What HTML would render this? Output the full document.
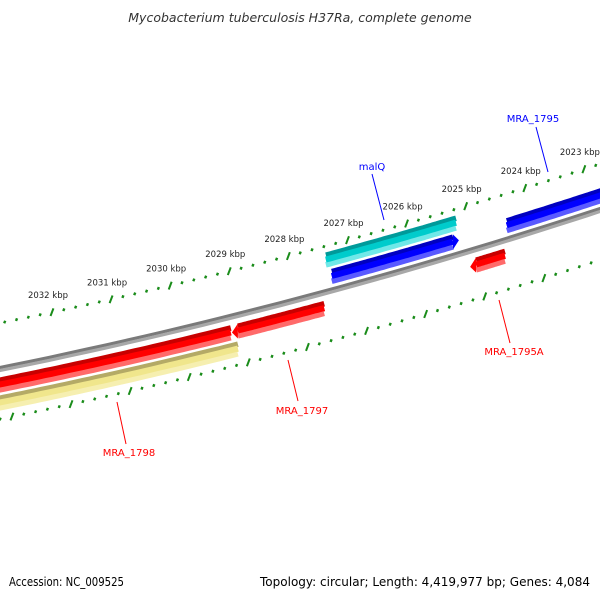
<!DOCTYPE html>
<html><head><meta charset="utf-8"><style>
html,body{margin:0;padding:0;background:#fff}
svg{display:block;font-family:"DejaVu Sans","Liberation Sans",sans-serif}
</style></head><body>
<svg id="map" width="600" height="600" viewBox="0 0 600 600" xmlns="http://www.w3.org/2000/svg">
<rect width="600" height="600" fill="#fff"/>
<text x="300" y="22" text-anchor="middle" font-size="12.5" font-style="italic" fill="#333">Mycobacterium tuberculosis H37Ra, complete genome</text>
<g id="ticks"></g>
<g id="backbone"></g>
<g id="genes"></g>
<g id="labels"></g>
<text x="9" y="586" font-size="12" fill="#000" textLength="115" lengthAdjust="spacingAndGlyphs">Accession: NC_009525</text>
<text x="260" y="586" font-size="12" fill="#000" textLength="330" lengthAdjust="spacingAndGlyphs">Topology: circular; Length: 4,419,977 bp; Genes: 4,084</text>
</svg>
<script>
// data
const majorTicks = [2023,2024,2025,2026,2027,2028,2029,2030,2031,2032];
const tickLabels = ["2023 kbp","2024 kbp","2025 kbp","2026 kbp","2027 kbp","2028 kbp","2029 kbp","2030 kbp","2031 kbp","2032 kbp"];
const geneNames = ["MRA_1795","MRA_1795A","blue-gene","malQ","MRA_1797","MRA_1798","yellow-feature"];
const geneStarts = [2022.0,2024.01,2024.79,2024.84,2027.07,2028.65,2028.53];
const geneEnds   = [2023.98,2024.60,2026.94,2027.04,2028.63,2032.7,2032.7];
const geneRing   = [-14,16,-14,-32,16,16,34];
const geneColor  = ["blue","red","blue","cyan","red","red","yellow"];
const geneArrow  = ["none","left","right","none","left","none","none"];

const NS="http://www.w3.org/2000/svg";
function mk(tag,attrs,parent){const e=document.createElementNS(NS,tag);for(const k in attrs)e.setAttribute(k,attrs[k]);parent.appendChild(e);return e;}
// geometry
function baseY(x){return 369-0.2017*x-1.056e-4*x*x;}
const SHEAR=-0.417;
function kx(k){return 32.8+(2032-k)*59.1;}
function tpos(k,d){const x=kx(k)+SHEAR*d;return [x,baseY(x)+d];}
function pos(k,d){const x=kx(k);return [x,baseY(x)+d];}
function pathAlong(k1,k2,d){let s="";const n=40;for(let i=0;i<=n;i++){const k=k1+(k2-k1)*i/n;const p=pos(k,d);s+=(i?"L":"M")+p[0].toFixed(1)+","+p[1].toFixed(1);}return s;}

const pal={blue:["#0000c0","#0000ff","#5a5aff"],red:["#c80000","#ff0000","#ff6a6a"],cyan:["#009a9a","#00cccc","#70e8e8"],yellow:["#b4aa66","#f0e68c","#f6efb0"]};

// backbone
const bb=document.getElementById('backbone');
let e=mk('path',{d:pathAlong(2021,2034,-1.5),stroke:"#7a7a7a","stroke-width":3.2,fill:"none"},bb);

e=mk('path',{d:pathAlong(2021,2034,1.5),stroke:"#a8a8a8","stroke-width":3.2,fill:"none"},bb);


// ticks
const tg=document.getElementById('ticks');
[-46,50].forEach(function(d,ri){
  for(let k=2033.4;k>=2021.6;k-=0.2){
    const kk=Math.round(k*10)/10;
    const major=Math.abs(kk-Math.round(kk))<0.01;
    const h=major?3.5:1.2;
    const a=tpos(kk,d-h),b=tpos(kk,d+h);
    const t=mk('line',{x1:a[0],y1:a[1],x2:b[0],y2:b[1],stroke:"#1a8c1a","stroke-width":major?2:2.4},tg);
    
    
  }
});
majorTicks.forEach(function(k,i){
  const p=tpos(k,-46);
  const t=mk('text',{x:p[0]-4,y:p[1]-14,"text-anchor":"middle","font-size":"8.5",fill:"#222"},tg);
  t.textContent=tickLabels[i];
  
  
});

// genes
const gg=document.getElementById('genes');
geneNames.forEach(function(name,i){
  const g=mk('g',{},gg);
  
  
  const c=pal[geneColor[i]],d=geneRing[i];
  let k1=geneStarts[i],k2=geneEnds[i];
  const ah=0.1;
  let b1=k1,b2=k2;
  if(geneArrow[i]==="right")b1=k1+ah;
  if(geneArrow[i]==="left")b2=k2-ah;
  [[-4.8,c[0]],[0,c[1]],[4.8,c[2]]].forEach(function(s){
    mk('path',{d:pathAlong(b1,b2,d+s[0]),stroke:s[1],"stroke-width":5.6,fill:"none"},g);
  });
  mk('path',{d:pathAlong(b1,b2,d-0.5),stroke:c[1],"stroke-width":6,fill:"none"},g);
  if(geneArrow[i]!=="none"){
    const tipK=geneArrow[i]==="right"?k1:k2, baseK=geneArrow[i]==="right"?b1:b2;
    const p1=pos(baseK,d-7.5),p2=pos(tipK,d),p3=pos(baseK,d+7.5);
    mk('polygon',{points:p1.join(",")+" "+p2.join(",")+" "+p3.join(","),fill:c[1]},g);
  }
});

// labels
const lg=document.getElementById('labels');
const labelData=[["malQ",372,170,372,174,384,220,"#0000ff"],["MRA_1795",533,122,536,127,548,172,"#0000ff"],["MRA_1795A",514,355,499,300,510,343,"#ff0000"],["MRA_1797",302,414,288,360,298,401,"#ff0000"],["MRA_1798",129,456,117,402,126,444,"#ff0000"]];
labelData.forEach(function(L){
  const l=mk('line',{x1:L[3],y1:L[4],x2:L[5],y2:L[6],stroke:L[7],"stroke-width":1},lg);
  
  
  const t=mk('text',{x:L[1],y:L[2],"text-anchor":"middle","font-size":"10",fill:L[7]},lg);
  t.textContent=L[0];
  
  
});
</script>
</body></html>
